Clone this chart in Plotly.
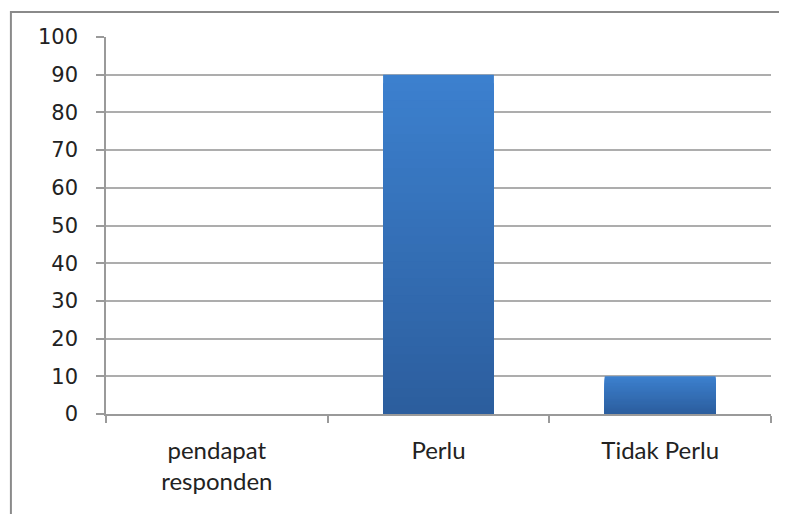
import plotly.graph_objects as go

categories = ["pendapat responden", "Perlu", "Tidak Perlu"]
tick_labels = ["pendapat<br>responden", "Perlu", "Tidak Perlu"]
values = [0, 90, 10]
y_ticks = [0, 10, 20, 30, 40, 50, 60, 70, 80, 90, 100]

top_rgb = (60, 128, 206)
bot_rgb = (44, 94, 158)
N = 40

fig = go.Figure()
for k in range(N):
    f = k / (N - 1)
    c = tuple(round(top_rgb[i] + (bot_rgb[i] - top_rgb[i]) * f) for i in range(3))
    frac = 1 - k / N
    fig.add_trace(go.Bar(
        x=categories,
        y=[v * frac for v in values],
        marker=dict(color="rgb(%d,%d,%d)" % c, line=dict(width=0)),
        width=0.5,
        hoverinfo="skip",
        showlegend=False,
    ))

fig.update_layout(
    barmode="overlay",
    width=779, height=506,
    margin=dict(l=98, r=16, t=29, b=100),
    paper_bgcolor="white",
    plot_bgcolor="white",
    font=dict(family="DejaVu Sans", size=16, color="#222222"),
)
fig.update_xaxes(
    type="category",
    tickvals=categories,
    ticktext=tick_labels,
    tickfont=dict(family="Lato", size=24, color="#222222"),
    ticklabelstandoff=14,
    showline=True, linecolor="#9a9a9a", linewidth=1.5,
    ticks="outside", ticklen=7, tickcolor="#9a9a9a", tickwidth=1.5,
    tickson="boundaries",
    showgrid=False,
    range=[-0.5, 2.5],
)
fig.update_yaxes(
    range=[0, 100],
    tickvals=y_ticks,
    ticktext=[str(t) for t in y_ticks],
    showgrid=True, gridcolor="#adadad", gridwidth=1.8,
    showline=True, linecolor="#9a9a9a", linewidth=1.5,
    ticks="outside", ticklen=8, tickcolor="#9a9a9a", tickwidth=1.5,
    tickfont=dict(family="DejaVu Sans", size=21, color="#222222"),
    ticklabelstandoff=14,
    zeroline=False,
)

fig.add_shape(
    type="rect", xref="paper", yref="paper",
    x0=-0.143, x1=1.06, y0=-0.4, y1=1.066,
    line=dict(color="#8a8a8a", width=2), fillcolor="rgba(0,0,0,0)", layer="below",
)

fig.write_html("out.html")
